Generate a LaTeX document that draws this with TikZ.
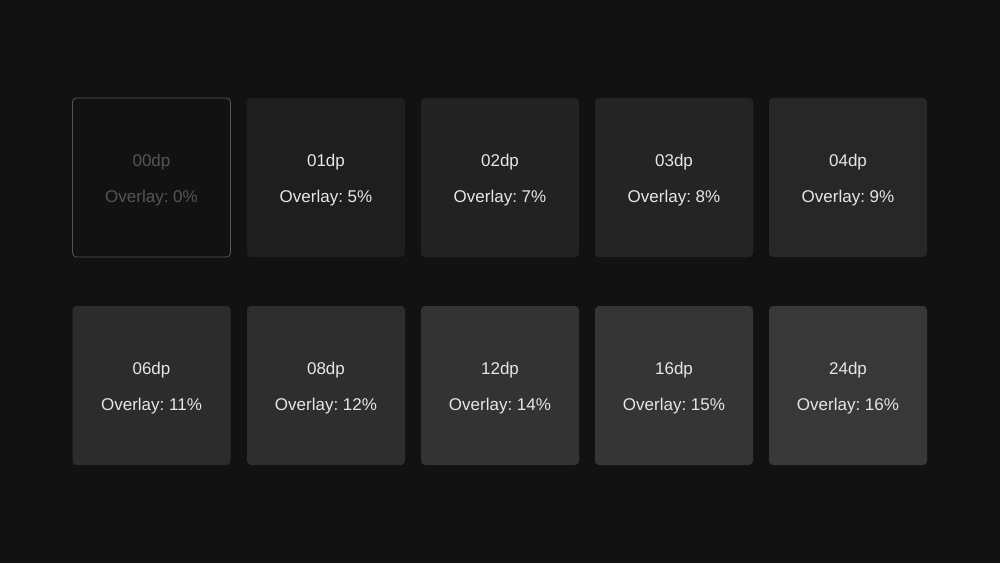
\documentclass[tikz,border=0pt]{standalone}
\usepackage{fontspec}
\setmainfont{Liberation Sans}
\frenchspacing
\definecolor{bg}{HTML}{121212}
\definecolor{txt}{HTML}{E6E6E6}
\definecolor{dim}{HTML}{555555}
\definecolor{e01}{HTML}{1E1E1E}
\definecolor{e02}{HTML}{222222}
\definecolor{e03}{HTML}{242424}
\definecolor{e04}{HTML}{272727}
\definecolor{e06}{HTML}{2C2C2C}
\definecolor{e08}{HTML}{2E2E2E}
\definecolor{e12}{HTML}{333333}
\definecolor{e16}{HTML}{353535}
\definecolor{e24}{HTML}{383838}
\tikzset{
  card/.style={rounded corners=4pt, minimum width=158pt, minimum height=159pt, inner sep=0pt, draw=none},
  lbl/.style={font=\fontsize{17pt}{19pt}\selectfont, text=txt, inner sep=0pt, anchor=center},
}
\begin{document}
\begin{tikzpicture}[x=1pt,y=-1pt]
\fill[bg] (0,0) rectangle (1000,563);
\useasboundingbox (0,0) rectangle (1000,563);
% row 1
\node[card, fill=bg, draw=dim, line width=0.8pt] (c00) at (151.5,177.5) {};
\node[lbl, text=dim] (t00) at (151.5,162.5) {00dp};
\node[lbl, text=dim] (o00) at (151.5,198.5) {Overlay: 0\%};
\foreach \n/\cx/\col/\pc in {01/326/e01/5, 02/500/e02/7, 03/674/e03/8, 04/848/e04/9}{
  \node[card, fill=\col] (c\n) at (\cx,177.5) {};
  \node[lbl] (t\n) at (\cx,162.5) {\n dp};
  \node[lbl] (o\n) at (\cx,198.5) {Overlay: \pc\%};
}
% row 2
\foreach \n/\cx/\col/\pc in {06/151.5/e06/11, 08/326/e08/12, 12/500/e12/14, 16/674/e16/15, 24/848/e24/16}{
  \node[card, fill=\col] (c\n) at (\cx,385.5) {};
  \node[lbl] (t\n) at (\cx,370.5) {\n dp};
  \node[lbl] (o\n) at (\cx,406.5) {Overlay: \pc\%};
}
\end{tikzpicture}
\end{document}
